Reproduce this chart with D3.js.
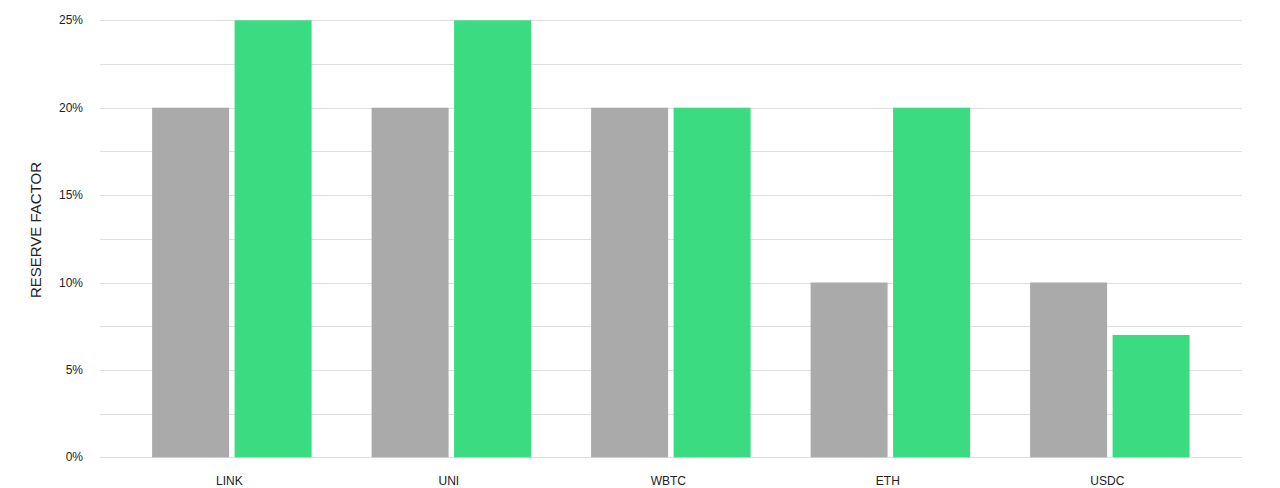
<!DOCTYPE html>
<html><head><meta charset="utf-8">
<script src="https://cdn.jsdelivr.net/npm/d3@7"></script>
<style>body{margin:0;background:#fff;}svg{display:block;font-family:"Liberation Sans",Arial,sans-serif;}</style>
</head><body><svg id="c" width="1280" height="488"></svg>
<script>
const categories = ["LINK","UNI","WBTC","ETH","USDC"];
const seriesNames = ["Before","After"];
const before = [20,20,20,10,10];
const after = [25,25,20,20,7];
const gridTicks = [0,2.5,5,7.5,10,12.5,15,17.5,20,22.5,25];
const labelTicks = [0,5,10,15,20,25];

const svg = d3.select("#c");
const x = d3.scaleBand().domain(categories).range([119.6,1217.1]).padding(0);
const xi = d3.scaleBand().domain(seriesNames).range([32.5,192]).paddingInner(0.0667).paddingOuter(0);
const y = d3.scaleLinear().domain([0,25]).range([457.3,20.3]);
const colors = {Before:"#aaaaaa", After:"#3bdb81"};

// grid
svg.append("g").selectAll("line").data(gridTicks).join("line")
  .attr("x1",100).attr("x2",1242)
  .attr("y1",d=>Math.round(y(d))+0.5).attr("y2",d=>Math.round(y(d))+0.5)
  .attr("stroke","#dedede").attr("stroke-width",1);

// y labels
svg.append("g").selectAll("text").data(labelTicks).join("text")
  .attr("x",83).attr("y",d=>y(d)+4).attr("text-anchor","end")
  .attr("font-size",12).attr("fill","#222").text(d=>d+"%");

// bars
const data = categories.map((c,i)=>({c, vals:[{s:"Before",v:before[i]},{s:"After",v:after[i]}]}));
const g = svg.append("g").selectAll("g").data(data).join("g")
  .attr("transform",d=>`translate(${x(d.c)},0)`);
g.selectAll("rect").data(d=>d.vals).join("rect")
  .attr("x",d=>xi(d.s)).attr("width",xi.bandwidth())
  .attr("y",d=>y(d.v)).attr("height",d=>y(0)-y(d.v))
  .attr("fill",d=>colors[d.s]);

// x labels
svg.append("g").selectAll("text").data(categories).join("text")
  .attr("x",d=>x(d)+x.bandwidth()/2).attr("y",485).attr("text-anchor","middle")
  .attr("font-size",12).attr("fill","#222").text(d=>d);

// y axis title
svg.append("text").attr("transform","translate(41,230) rotate(-90)")
  .attr("text-anchor","middle").attr("font-size",15).attr("fill","#222").text("RESERVE FACTOR");
</script></body></html>
